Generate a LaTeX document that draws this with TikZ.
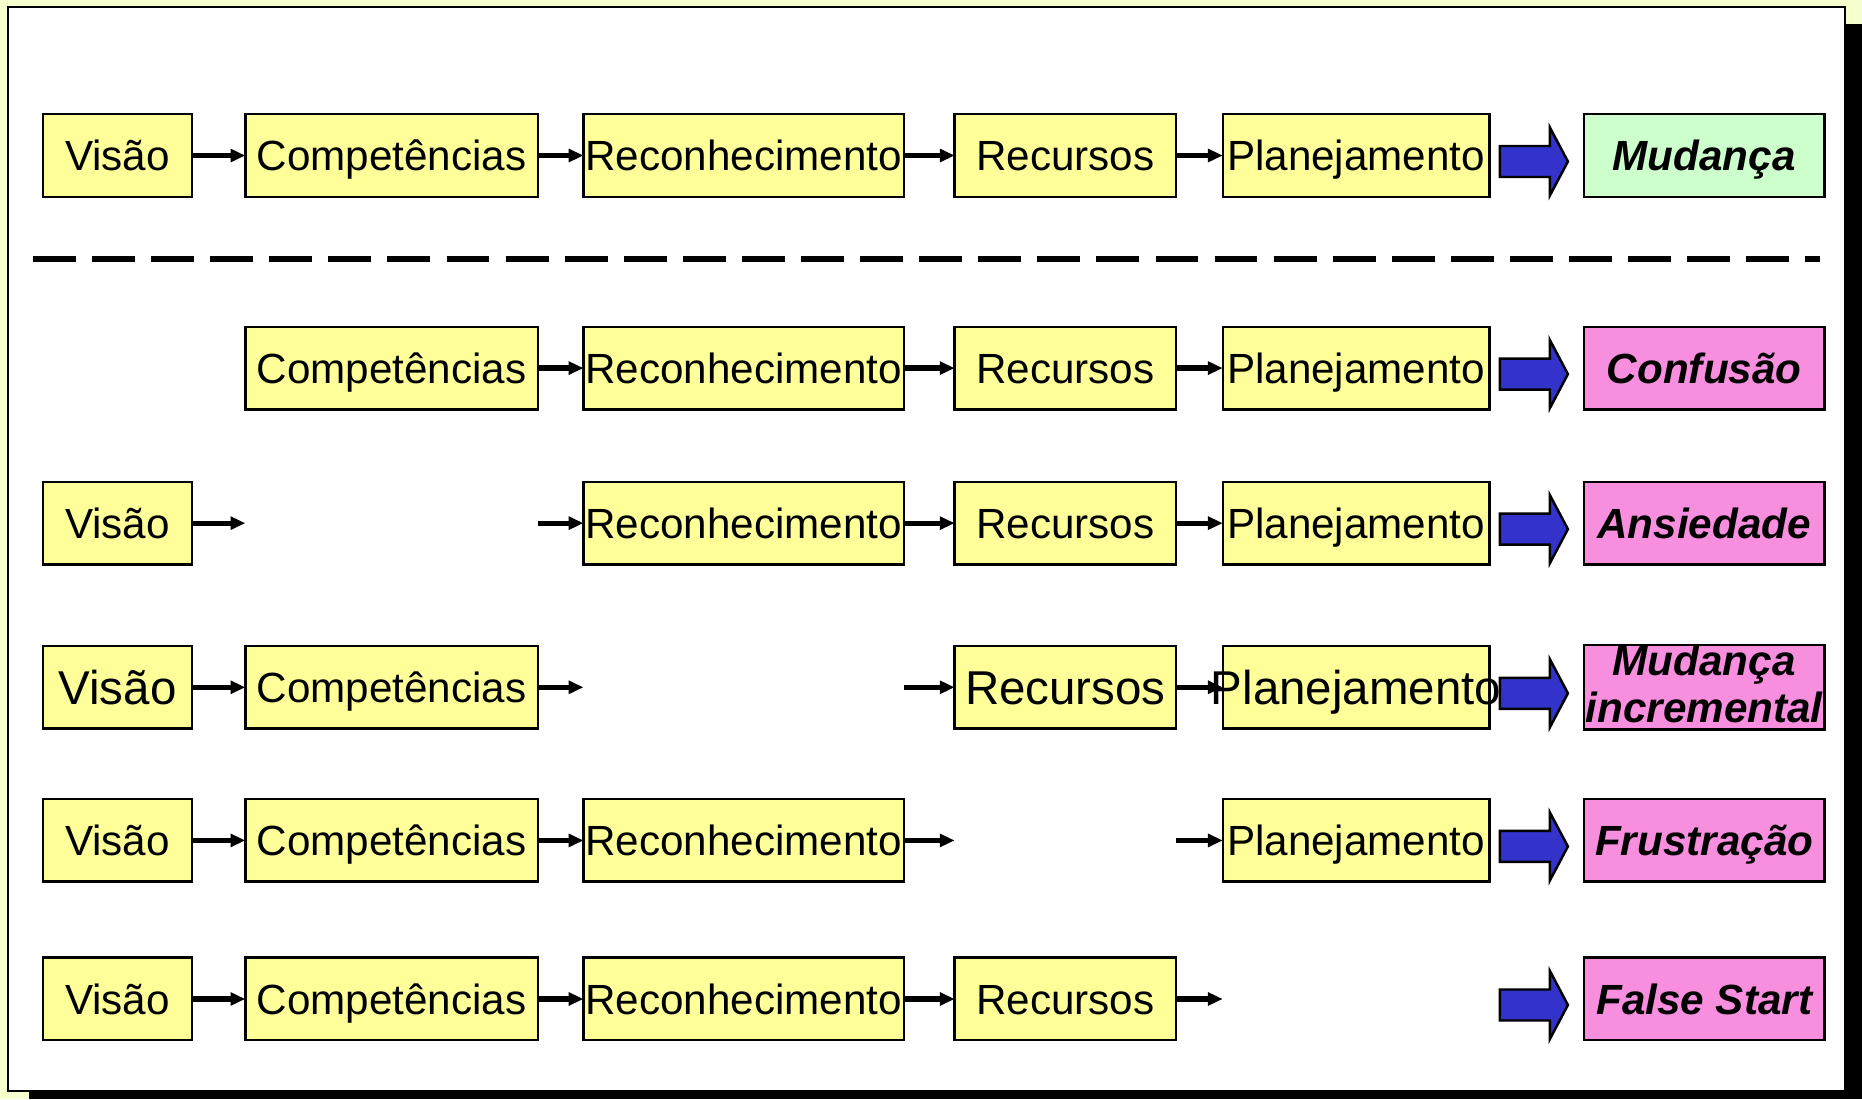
\documentclass[tikz,border=0pt]{standalone}
\usepackage{fontspec}
\setmainfont{Liberation Sans}
\usetikzlibrary{matrix}
\usetikzlibrary{positioning, calc}
\usetikzlibrary{arrows.meta}
\definecolor{boxyellow}{RGB}{255,255,153}
\definecolor{okgreen}{RGB}{204,255,204}
\definecolor{badpink}{RGB}{248,143,222}
\definecolor{arrowblue}{RGB}{51,51,204}
\definecolor{pagecream}{RGB}{246,255,206}
\tikzset{>={Triangle[length=4.2pt, width=3.6pt]}}
\tikzset{
  font={\fontsize{12pt}{14pt}\selectfont}}
\tikzset{
  stage/.style={draw=black, line width=0.7pt, fill=boxyellow, anchor=center,
    minimum height=0.825cm, inner sep=0pt, outer sep=0pt,
    text height=8.6pt, text depth=0pt},
  outcome/.style={stage, fill=badpink,
    font={\fontsize{12pt}{13.4pt}\selectfont\bfseries\itshape}},
  twoline/.style={text height=, text depth=2pt},
  big/.style={font={\fontsize{13.5pt}{15pt}\selectfont}, text height=9.7pt},
  link/.style={->, line width=1.5pt},
  divider/.style={line width=1.6pt, dash pattern=on 12.2pt off 4.6pt},
  bluearrow/.style={draw=black, line width=0.7pt, fill=arrowblue, line join=miter},
}
\newcommand{\incrlabel}{\vbox{\hbox to 2.37cm{\hss Mudança\hss}\hbox to 2.37cm{\hss incremental\hss}}}
\newcommand{\wideplan}{\makebox[0pt]{Planejamento}}

\begin{document}
\begin{tikzpicture}[x=0.01cm, y=-0.01cm]
  \useasboundingbox (0,0) rectangle (1862,1099);
  \fill[pagecream] (0,0) rectangle (1862,1099);
  \fill[black] (29,24) rectangle (1862,1099);
  \draw[line width=0.7pt, fill=white] (8,7) rectangle (1845,1091);

     \matrix (flow) [%
       matrix of nodes,
       anchor=north west,
       inner sep=0pt, outer sep=0pt,
       column sep=0pt,
       nodes = {stage},
       column 1/.style={nodes={minimum width=1.485cm}},
       column 2/.style={nodes={minimum width=2.925cm}},
       column 3/.style={nodes={minimum width=3.205cm}},
       column 4/.style={nodes={minimum width=2.215cm}},
       column 5/.style={nodes={minimum width=2.665cm}},
       column 6/.style={nodes={outcome, minimum width=2.405cm}},
     ] at (42,113)
     {
       Visão &[0.51cm] Competências &[0.43cm] Reconhecimento &[0.48cm] Recursos &[0.44cm] Planejamento &[0.92cm] |[fill=okgreen]| Mudança \\[1.275cm]
             & Competências & Reconhecimento & Recursos & Planejamento & Confusão \\[0.70cm]
       Visão &              & Reconhecimento & Recursos & Planejamento & Ansiedade \\[0.78cm]
       |[big]| Visão & Competências & & |[big]| Recursos & |[big]| \wideplan & |[twoline]| \incrlabel \\[0.67cm]
       Visão & Competências & Reconhecimento & & Planejamento & Frustração \\[0.735cm]
       Visão & Competências & Reconhecimento & Recursos & & False Start \\
     };

     \draw[divider] (33,259) -- (1820,259);

     %% row 1
     \draw[link] (flow-1-1) -- (flow-1-2);
     \draw[link] (flow-1-2) -- (flow-1-3);
     \draw[link] (flow-1-3) -- (flow-1-4);
     \draw[link] (flow-1-4) -- (flow-1-5);

     %% row 2
     \draw[link] (flow-2-2) -- (flow-2-3);
     \draw[link] (flow-2-3) -- (flow-2-4);
     \draw[link] (flow-2-4) -- (flow-2-5);

     %% row 3
     \coordinate (cut3) at (flow-1-2.west |- flow-3-1);
     \coordinate (resume3) at (flow-1-2.east |- flow-3-3);
     \draw[link] (flow-3-1) -- (cut3);
     \draw[link] (resume3) -- (flow-3-3);
     \draw[link] (flow-3-3) -- (flow-3-4);
     \draw[link] (flow-3-4) -- (flow-3-5);

     %% row 4
     \coordinate (cut4) at (flow-1-3.west |- flow-4-2);
     \coordinate (resume4) at (flow-1-3.east |- flow-4-4);
     \draw[link] (flow-4-1) -- (flow-4-2);
     \draw[link] (flow-4-2) -- (cut4);
     \draw[link] (resume4) -- (flow-4-4);
     \draw[link] (flow-4-4) -- (flow-4-5);

     %% row 5
     \coordinate (cut5) at (flow-1-4.west |- flow-5-3);
     \coordinate (resume5) at (flow-1-4.east |- flow-5-5);
     \draw[link] (flow-5-1) -- (flow-5-2);
     \draw[link] (flow-5-2) -- (flow-5-3);
     \draw[link] (flow-5-3) -- (cut5);
     \draw[link] (resume5) -- (flow-5-5);

     %% row 6
     \coordinate (cut6) at (flow-1-5.west |- flow-6-4);
     \draw[link] (flow-6-1) -- (flow-6-2);
     \draw[link] (flow-6-2) -- (flow-6-3);
     \draw[link] (flow-6-3) -- (flow-6-4);
     \draw[link] (flow-6-4) -- (cut6);

     %% outcome arrows
     \draw[bluearrow] ($(flow-1-6.west)+(-16,6)$) -- ++(-18,-34) -- ++(0,18.5) -- ++(-50,0) -- ++(0,31) -- ++(50,0) -- ++(0,18.5) -- cycle;
     \draw[bluearrow] ($(flow-2-6.west)+(-16,6)$) -- ++(-18,-34) -- ++(0,18.5) -- ++(-50,0) -- ++(0,31) -- ++(50,0) -- ++(0,18.5) -- cycle;
     \draw[bluearrow] ($(flow-3-6.west)+(-16,6)$) -- ++(-18,-34) -- ++(0,18.5) -- ++(-50,0) -- ++(0,31) -- ++(50,0) -- ++(0,18.5) -- cycle;
     \draw[bluearrow] ($(flow-4-6.west)+(-16,6)$) -- ++(-18,-34) -- ++(0,18.5) -- ++(-50,0) -- ++(0,31) -- ++(50,0) -- ++(0,18.5) -- cycle;
     \draw[bluearrow] ($(flow-5-6.west)+(-16,6)$) -- ++(-18,-34) -- ++(0,18.5) -- ++(-50,0) -- ++(0,31) -- ++(50,0) -- ++(0,18.5) -- cycle;
     \draw[bluearrow] ($(flow-6-6.west)+(-16,6)$) -- ++(-18,-34) -- ++(0,18.5) -- ++(-50,0) -- ++(0,31) -- ++(50,0) -- ++(0,18.5) -- cycle;

\end{tikzpicture}
\end{document}
